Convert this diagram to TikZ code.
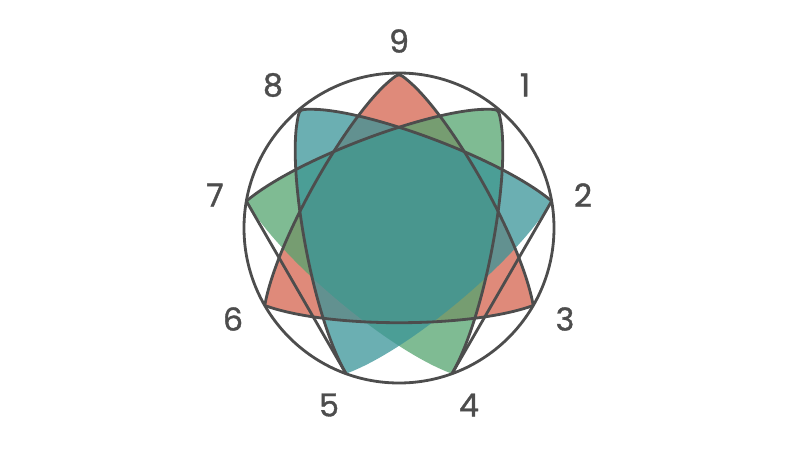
\documentclass[tikz,border=0pt]{standalone}
\usepackage{fontspec}
\setmainfont{Poppins}
\newfontfamily\chiffres[FakeBold=1.2]{Poppins}
\usepackage{tikz}
\usetikzlibrary{calc}
\definecolor{saumon}{RGB}{212,99,78}
\definecolor{vert}{RGB}{84,164,111}
\definecolor{canard}{RGB}{58,148,152}
\definecolor{gris}{RGB}{77,77,77}
\tikzstyle{forme}=[fill opacity=0.75]
\tikzstyle{trait}=[draw=gris,line width=1.6pt,line join=round]
\tikzstyle{chiffre}=[text=gris,font=\chiffres\fontsize{18}{20}\selectfont,inner sep=0pt]

\begin{document}
\begin{tikzpicture}[x=0.02cm,y=0.02cm]
\useasboundingbox (-399,-222) rectangle (401,228);
\coordinate (centre) at (0,0);
%Sommets
\foreach \i in {1,...,9}
  \coordinate (p\i) at ({90-40*\i}:155);
%Points de controle des cotes
\foreach \a/\b in {9/3,3/6,6/9,1/4,4/7,7/1,8/2,2/5,5/8}{
  \coordinate (o\a\b) at ($(p\a)!0.25!20:(p\b)$);
  \coordinate (i\a\b) at ($(p\b)!0.25!-20:(p\a)$);
  \coordinate (ro\a\b) at ($(p\a)!0.045!20:(p\b)$);
  \coordinate (ri\a\b) at ($(p\b)!0.045!-20:(p\a)$);
}
%Chiffres
\foreach \i/\x/\y in {9/0/187,1/126/143,2/184/33,3/166/-91,4/70/-177,
                      5/-70/-177,6/-166/-91,7/-184/33,8/-126/143}
  \node[chiffre] (n\i) at (\x,\y) {\i};
%Remplissage
\fill[forme,saumon] (ro93) .. controls (o93) and (i93) .. (p3)
  .. controls (o36) and (i36) .. (p6)
  .. controls (o69) and (i69) .. (ri69) .. controls (p9) .. (ro93) -- cycle;
\fill[forme,vert] (ro14) .. controls (o14) and (i14) .. (p4)
  .. controls (o47) and (i47) .. (p7)
  .. controls (o71) and (i71) .. (ri71) .. controls (p1) .. (ro14) -- cycle;
\fill[forme,canard] (ro82) .. controls (o82) and (i82) .. (p2)
  .. controls (o25) and (i25) .. (p5)
  .. controls (o58) and (i58) .. (ri58) .. controls (p8) .. (ro82) -- cycle;
%Traits
\draw[trait] (centre) circle[radius=155];
\draw[trait] (ro93) .. controls (o93) and (i93) .. (p3)
  .. controls (o36) and (i36) .. (p6)
  .. controls (o69) and (i69) .. (ri69) .. controls (p9) .. (ro93) -- cycle;
\draw[trait] (p7) .. controls (o71) and (i71) .. (ri71)
  .. controls (p1) .. (ro14) .. controls (o14) and (i14) .. (p4);
\draw[trait] (p5) .. controls (o58) and (i58) .. (ri58)
  .. controls (p8) .. (ro82) .. controls (o82) and (i82) .. (p2);
\draw[trait] (p4) -- (p2);
\draw[trait] (p5) -- (p7);
\end{tikzpicture}
\end{document}
